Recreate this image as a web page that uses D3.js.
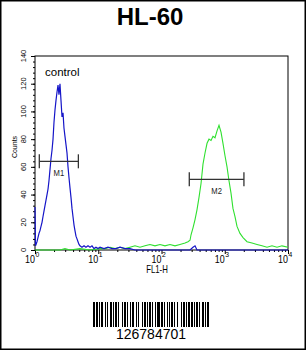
<!DOCTYPE html>
<html>
<head>
  <meta charset="UTF-8">
  <style>
    body { margin: 0; background: #fff; }
    text { font-family: "Liberation Sans", Arial, sans-serif; }
  </style>
</head>
<body>
<svg></svg>
<script src="https://d3js.org/d3.v7.min.js"></script>
<script>

let width = 306, height = 350;

// control histogram (blue): position in decades, counts
let controlDec = [0, 0.008, 0.016, 0.032, 0.047, 0.063, 0.079, 0.095, 0.111, 0.126, 0.142, 0.158, 0.174, 0.190, 0.206, 0.221, 0.237, 0.253, 0.269, 0.285, 0.300, 0.316, 0.332, 0.348, 0.364, 0.379, 0.395, 0.411, 0.427, 0.443, 0.458, 0.474, 0.490, 0.506, 0.522, 0.538, 0.553, 0.569, 0.585, 0.601, 0.617, 0.632, 0.648, 0.664, 0.680, 0.696, 0.711, 0.743, 0.775, 0.806, 0.838, 0.870, 0.901, 0.933, 0.964, 0.996, 1.028, 1.091, 1.154, 1.217, 1.281, 1.344, 1.423, 1.502, 1.581, 2.451, 2.498, 2.530, 2.561, 4.0];
let controlCounts = [31, 3, 4, 6, 9, 12, 14, 17, 20, 24, 28, 32, 36, 40, 44, 50, 58, 66, 72, 80, 92, 101, 108, 114, 119, 112, 120, 108, 96, 99, 88, 82, 76, 70, 60, 52, 45, 38, 30, 24, 18, 14, 10, 8, 6, 4, 3, 2, 3, 2, 3, 2, 3, 1, 2, 1, 2, 1, 2, 1, 1, 2, 1, 1, 0, 0, 2, 3, 0, 0];

// sample histogram (green)
let sampleDec = [0, 0.395, 0.474, 0.553, 0.711, 0.870, 1.028, 1.107, 1.186, 1.265, 1.344, 1.423, 1.502, 1.581, 1.660, 1.739, 1.818, 1.897, 1.976, 2.055, 2.134, 2.213, 2.292, 2.372, 2.419, 2.451, 2.467, 2.498, 2.530, 2.561, 2.593, 2.625, 2.656, 2.688, 2.720, 2.751, 2.783, 2.814, 2.846, 2.878, 2.909, 2.941, 2.972, 3.004, 3.036, 3.067, 3.099, 3.130, 3.162, 3.194, 3.241, 3.289, 3.352, 3.431, 3.510, 3.589, 3.668, 3.747, 3.826, 3.905, 4.0];
let sampleCounts = [0, 0, 1, 0, 1, 0, 1, 1, 2, 1, 2, 1, 2, 3, 2, 3, 4, 3, 4, 3, 4, 3, 4, 5, 6, 7, 11, 16, 22, 29, 38, 48, 62, 70, 77, 80, 79, 82, 81, 86, 90, 85, 77, 68, 60, 50, 41, 30, 24, 17, 12, 9, 6, 5, 4, 3, 2, 3, 2, 3, 2];

// markers
let markers = [
  {name: "M1", from: 1.17, to: 4.85, level: 64},
  {name: "M2", from: 275, to: 2010, level: 51}
];

let yTicks = [0, 20, 40, 60, 80, 100, 120, 140];
let xTicks = [1, 10, 100, 1000, 10000];

let barcodeWidths = [2,1,2,1,1,1,2,2,1,1,1,2,2,1,1,1,2,1,1,3,1,1,2,1,1,2,1,1,2,2,1,1,1,3,1,1,2,1,1,1,2,1,1,2,1,1,3,1,2,1,1,2,1,1,1,1,2,1,1,2,1,3,1,1,2,1,1,1,2,1,2,1,1,1,2,1,1,2,2,1,1,1,2];
let barcodeText = "126784701";

let svg = d3.select("svg")
    .attr("width", width)
    .attr("height", height);

svg.append("rect")
    .attr("x", 0.75).attr("y", 0.75)
    .attr("width", width - 1.5).attr("height", height - 1.5)
    .attr("fill", "white")
    .attr("stroke", "black")
    .attr("stroke-width", 1.5);

svg.append("text")
    .attr("x", 150).attr("y", 25)
    .attr("text-anchor", "middle")
    .attr("font-size", "24px")
    .attr("font-weight", "bold")
    .text("HL-60");

let x = d3.scaleLog().domain([1, 10000]).range([35, 288]);
let y = d3.scaleLinear().domain([0, 140]).range([250, 56]);

// frame
svg.append("rect")
    .attr("x", 35).attr("y", 56)
    .attr("width", 253).attr("height", 194)
    .attr("fill", "none")
    .attr("stroke", "black")
    .attr("stroke-width", 1);

// y axis ticks
let minorY = d3.range(0, 141, 4);
svg.append("g")
    .attr("transform", "translate(35,0)")
    .call(d3.axisLeft(y).tickValues(minorY).tickSize(2).tickFormat(""))
    .call(g => g.select(".domain").remove());
svg.append("g")
    .attr("transform", "translate(35,0)")
    .call(d3.axisLeft(y).tickValues(yTicks).tickSize(4).tickFormat(""))
    .call(g => g.select(".domain").remove());

svg.append("g")
    .selectAll("text")
    .data(yTicks)
    .enter()
    .append("text")
    .attr("transform", d => "translate(25.5," + y(d) + ") rotate(-90)")
    .attr("text-anchor", "middle")
    .attr("font-size", "7.5px")
    .text(d => d);

svg.append("text")
    .attr("transform", "translate(16.5,147) rotate(-90)")
    .attr("text-anchor", "middle")
    .attr("font-size", "7px")
    .text("Counts");

// x axis ticks
let minorX = [];
for (let dec = 1; dec < 10000; dec *= 10) {
  for (let k = 2; k < 10; k++) minorX.push(dec * k);
}
svg.append("g")
    .attr("transform", "translate(0,250)")
    .call(d3.axisBottom(x).tickValues(minorX).tickSize(2).tickFormat(""))
    .call(g => g.select(".domain").remove());
svg.append("g")
    .attr("transform", "translate(0,250)")
    .call(d3.axisBottom(x).tickValues(xTicks).tickSize(4).tickFormat(""))
    .call(g => g.select(".domain").remove());

let xl = svg.append("g").selectAll("g")
    .data(xTicks)
    .enter()
    .append("g");
xl.append("text")
    .attr("transform", d => "translate(" + x(d) + ",263) scale(0.85,1)")
    .attr("text-anchor", "end")
    .attr("font-size", "10.5px")
    .text("10");
xl.append("text")
    .attr("transform", d => "translate(" + (x(d) + 0.5) + ",257) scale(0.85,1)")
    .attr("font-size", "8px")
    .text(d => Math.round(Math.log10(d)));

svg.append("text")
    .attr("transform", "translate(157,273) scale(0.78,1)")
    .attr("text-anchor", "middle")
    .attr("font-size", "10px")
    .text("FL1-H");

// histograms
let line = d3.line()
    .x(d => x(Math.pow(10, d[0])))
    .y(d => y(d[1]));

svg.append("path")
    .datum(sampleDec.map((d, i) => [d, sampleCounts[i]]))
    .attr("fill", "none")
    .attr("stroke", "#2fe02f")
    .attr("stroke-width", 1.1)
    .attr("d", line);

svg.append("path")
    .datum(controlDec.map((d, i) => [d, controlCounts[i]]))
    .attr("fill", "none")
    .attr("stroke", "#1515c8")
    .attr("stroke-width", 1.2)
    .attr("d", line);

svg.append("text")
    .attr("x", 45).attr("y", 76)
    .attr("font-size", "11.5px")
    .text("control");

// marker bars
let mk = svg.append("g").selectAll("g")
    .data(markers)
    .enter()
    .append("g")
    .attr("stroke", "#333")
    .attr("stroke-width", 1.3);
mk.append("line")
    .attr("x1", d => x(d.from)).attr("x2", d => x(d.to))
    .attr("y1", d => y(d.level)).attr("y2", d => y(d.level));
mk.append("line")
    .attr("x1", d => x(d.from)).attr("x2", d => x(d.from))
    .attr("y1", d => y(d.level) - 7).attr("y2", d => y(d.level) + 7);
mk.append("line")
    .attr("x1", d => x(d.to)).attr("x2", d => x(d.to))
    .attr("y1", d => y(d.level) - 7).attr("y2", d => y(d.level) + 7);
mk.append("text")
    .attr("stroke", "none")
    .attr("fill", "#222")
    .attr("transform", d => "translate(" + ((x(d.from) + x(d.to)) / 2) + "," + (y(d.level) + 15) + ") scale(0.85,1)")
    .attr("text-anchor", "middle")
    .attr("font-size", "9px")
    .text(d => d.name);

// barcode
let total = d3.sum(barcodeWidths);
let bx = d3.scaleLinear().domain([0, total]).range([93, 209]);
let bars = [];
let pos = 0;
barcodeWidths.forEach((w, i) => {
  if (i % 2 == 0) bars.push({start: pos, w: w});
  pos += w;
});
svg.append("g").selectAll("rect")
    .data(bars)
    .enter()
    .append("rect")
    .attr("x", d => bx(d.start))
    .attr("y", 302)
    .attr("width", d => bx(d.start + d.w) - bx(d.start))
    .attr("height", 25)
    .attr("fill", "black");

svg.append("text")
    .attr("x", 151).attr("y", 339)
    .attr("text-anchor", "middle")
    .attr("font-size", "14px")
    .text(barcodeText);

</script>
</body>
</html>
